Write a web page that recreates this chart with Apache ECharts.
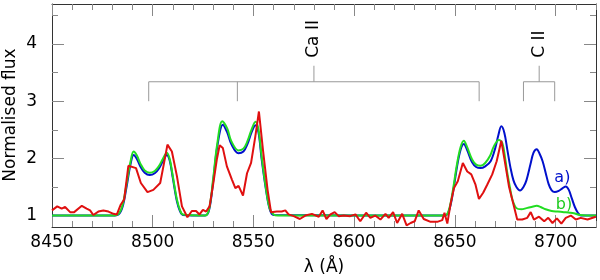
<!DOCTYPE html>
<html><head><meta charset="utf-8">
<script src="https://cdn.jsdelivr.net/npm/echarts@6/dist/echarts.min.js"></script>
<style>html,body{margin:0;padding:0;background:#fff}#c{width:600px;height:280px}</style>
</head><body><div id="c"></div>
<script>
// ---- axis ranges and ticks ----
const xMin = 8450, xMax = 8720, yMin = 0.8, yMax = 4.7;
const xMajorTicks = [8450, 8500, 8550, 8600, 8650, 8700];
const xMinorTicks = [8460, 8470, 8480, 8490, 8510, 8520, 8530, 8540, 8560, 8570, 8580, 8590, 8610, 8620, 8630, 8640, 8660, 8670, 8680, 8690, 8710, 8720];
const yMajorTicks = [1, 2, 3, 4];
const yMinorTicks = [1.5, 2.5, 3.5, 4.5];
const xTitle = 'λ (Å)';
const yTitle = 'Normalised flux';

// ---- model a) (blue) ----
const modelA = [[8450,1.0],[8480,1.0],[8483,1.02],[8485,1.15],[8487,1.5],[8489,1.9],[8490.5,2.06],[8492,2.0],[8494,1.85],[8496,1.75],[8498.5,1.71],[8501,1.74],[8503,1.82],[8505,1.95],[8507,2.06],[8508.5,1.95],[8510,1.65],[8512,1.25],[8513.5,1.08],[8515,1.01],[8526,1.0],[8528,1.1],[8530,1.6],[8532,2.2],[8534.8,2.59],[8537,2.45],[8539,2.25],[8542.5,2.09],[8545,2.12],[8547,2.25],[8549,2.45],[8551,2.58],[8552.5,2.45],[8554,2.0],[8556,1.5],[8558,1.12],[8560,1.01],[8645,1.0],[8647,1.08],[8649,1.4],[8651,1.85],[8652.8,2.15],[8654.4,2.25],[8656,2.15],[8658.5,1.93],[8660.5,1.85],[8662.7,1.83],[8665,1.86],[8667.7,1.95],[8670,2.18],[8671.5,2.4],[8673,2.56],[8674.5,2.45],[8676,2.15],[8677.6,1.83],[8679,1.62],[8680.5,1.5],[8682.3,1.44],[8684,1.5],[8685.5,1.62],[8687.5,1.9],[8689,2.1],[8690.6,2.16],[8692,2.08],[8693.5,1.95],[8695,1.75],[8696.5,1.55],[8698,1.44],[8699.5,1.41],[8701.5,1.43],[8703.5,1.48],[8705,1.51],[8706.5,1.45],[8708,1.3],[8709.5,1.15],[8711,1.05],[8712.5,1.0],[8720,1.0]];

// ---- model b) (green) ----
const modelB = [[8450,1.0],[8480,1.0],[8483,1.03],[8485,1.18],[8487,1.55],[8489,1.95],[8490.5,2.12],[8492,2.06],[8494,1.9],[8496,1.79],[8498.5,1.75],[8501,1.78],[8503,1.86],[8505,1.99],[8507,2.1],[8508.5,1.98],[8510,1.68],[8512,1.28],[8513.5,1.1],[8515,1.02],[8526,1.0],[8528,1.12],[8530,1.65],[8532,2.25],[8534.5,2.65],[8537,2.52],[8539,2.3],[8542.5,2.14],[8545,2.17],[8547,2.3],[8549,2.5],[8551,2.64],[8552.5,2.5],[8554,2.05],[8556,1.52],[8558,1.13],[8560,1.02],[8562,1.0],[8645,1.0],[8647,1.1],[8649,1.45],[8651,1.9],[8652.8,2.2],[8654.4,2.31],[8656,2.2],[8658.5,1.98],[8660.5,1.89],[8662.7,1.87],[8665,1.92],[8667.5,2.05],[8669.3,2.21],[8671.8,2.32],[8673.5,2.27],[8675,1.98],[8676,1.74],[8677.5,1.45],[8678.5,1.28],[8680.5,1.13],[8683,1.11],[8685.5,1.13],[8688,1.15],[8690.6,1.17],[8692.5,1.15],[8695,1.11],[8698,1.08],[8701,1.07],[8704,1.06],[8707,1.05],[8709,1.04],[8712,1.01],[8720,1.0]];

// ---- observed spectrum (red) ----
const observed = [[8450,1.09],[8452.6,1.16],[8454.8,1.12],[8456.5,1.15],[8459,1.06],[8461,1.06],[8464.8,1.17],[8467.2,1.12],[8468.9,1.09],[8470.5,1.01],[8473,1.07],[8475.5,1.09],[8478,1.07],[8480.5,1.03],[8482.2,1.02],[8484.1,1.19],[8485.8,1.28],[8487.9,1.87],[8491.7,1.83],[8494.1,1.57],[8497.4,1.41],[8500.3,1.45],[8503.7,1.57],[8505.5,1.9],[8507.3,2.24],[8509.5,2.12],[8512,1.69],[8514.5,1.16],[8517.2,0.97],[8519.4,1.08],[8521.5,1.08],[8523.2,1.02],[8524.9,1.10],[8526.5,1.07],[8528.2,1.16],[8530,1.55],[8531.8,1.98],[8533.2,2.23],[8534.8,2.18],[8536.8,1.86],[8539.3,1.63],[8541,1.48],[8542.6,1.52],[8544.8,1.35],[8546.8,1.74],[8548.8,1.92],[8550.9,2.38],[8552.7,2.82],[8554.7,2.15],[8557,1.45],[8558.7,1.06],[8561.6,1.07],[8564,1.07],[8565.8,1.09],[8567.4,1.02],[8570,0.99],[8573,0.94],[8575.7,1.0],[8579,1.03],[8582.4,0.98],[8584.3,1.09],[8586.2,0.94],[8588.2,1.02],[8590.3,1.06],[8592.3,0.99],[8594.8,1.0],[8598,0.99],[8600.6,1.02],[8603,0.90],[8605.9,1.05],[8608,0.96],[8610.4,1.0],[8613,0.93],[8615.5,1.03],[8617.1,0.96],[8619.3,1.06],[8621.3,0.87],[8623.8,1.03],[8626,0.83],[8628,0.87],[8630,0.9],[8632,1.09],[8634.5,0.94],[8637.9,0.89],[8641.2,0.89],[8643.7,0.92],[8644.8,1.05],[8646.2,0.86],[8647.8,1.2],[8649.5,1.48],[8651.4,1.60],[8653.9,1.92],[8656.1,1.77],[8658.1,1.72],[8660.2,1.54],[8661.9,1.29],[8664,1.40],[8666,1.54],[8668.5,1.72],[8670.7,1.95],[8673,2.31],[8674.6,1.98],[8676.8,1.51],[8679.3,1.16],[8680.9,0.93],[8683.4,0.93],[8685.9,0.96],[8687.6,1.06],[8689.2,0.93],[8691.7,0.98],[8694.3,0.9],[8696.3,0.96],[8698.4,0.87],[8700.6,0.95],[8702.8,0.86],[8705,0.96],[8707.5,1.0],[8710,0.93],[8712.4,0.96],[8715.8,0.93],[8719.9,0.98]];

// ---- line identifications ----
const caLines = [8498, 8542, 8662];
const caLabelX = 8580;
const cLines = [8684, 8699.5];
const cLabelX = 8691.8;
const bracketFoot = 3.0, bracketBar = 3.34, bracketStem = 3.62;
const labelA = [8703.3, 1.66];
const labelB = [8704.1, 1.19];

const FONT = 'DejaVu Sans';
const AX = '#333', TK = '#888', GRAY = '#999';

function bracketSeries(lines, cx) {
  const out = [];
  const lo = Math.min(...lines), hi = Math.max(...lines);
  out.push([[lo, bracketBar], [hi, bracketBar]]);
  lines.forEach(l => out.push([[l, bracketFoot], [l, bracketBar]]));
  out.push([[cx, bracketBar], [cx, bracketStem]]);
  return out.map(d => ({
    type: 'line', data: d, symbol: 'none', silent: true, z: 1,
    lineStyle: { color: GRAY, width: 1 }, animation: false
  }));
}
function textSeries(pt, text, opts) {
  return {
    type: 'scatter', data: [pt], symbolSize: 0, silent: true, animation: false, z: 5,
    itemStyle: { opacity: 1 },
    label: Object.assign({ show: true, formatter: text, fontFamily: FONT }, opts)
  };
}
const plain = v => String(v);

function xAx(pos, vals, len, showLabel, showLine) {
  return {
    type: 'value', min: xMin, max: xMax, position: pos, gridIndex: 0,
    axisLine: { show: showLine, onZero: false, lineStyle: { color: AX, width: 1 } },
    axisTick: { show: true, inside: true, length: len, customValues: vals, lineStyle: { color: TK } },
    axisLabel: { show: showLabel, customValues: vals, formatter: plain, margin: 7, fontSize: 17, color: '#000', fontFamily: FONT },
    splitLine: { show: false }
  };
}
function yAx(pos, vals, len, showLabel, showLine) {
  return {
    type: 'value', min: yMin, max: yMax, position: pos, gridIndex: 0,
    axisLine: { show: showLine, onZero: false, lineStyle: { color: AX, width: 1 } },
    axisTick: { show: true, inside: true, length: len, customValues: vals, lineStyle: { color: TK } },
    axisLabel: { show: showLabel, customValues: vals, formatter: plain, margin: 15, fontSize: 17, color: '#000', fontFamily: FONT },
    splitLine: { show: false }
  };
}

const xAxes = [
  xAx('bottom', xMajorTicks, 12, true, true),
  xAx('bottom', xMinorTicks, 6, false, false),
  xAx('top', xMajorTicks, 12, false, true),
  xAx('top', xMinorTicks, 6, false, false)
];
const yAxes = [
  yAx('left', yMajorTicks, 12, true, true),
  yAx('left', yMinorTicks, 6, false, false),
  yAx('right', yMajorTicks, 12, false, true),
  yAx('right', yMinorTicks, 6, false, false)
];

const series = [
  ...bracketSeries(caLines, caLabelX),
  ...bracketSeries(cLines, cLabelX),
  textSeries([caLabelX, bracketStem], 'Ca II', { position: 'top', distance: 8, rotate: 90, align: 'left', verticalAlign: 'middle', fontSize: 17, color: '#000' }),
  textSeries([cLabelX, bracketStem], 'C II', { position: 'top', distance: 8, rotate: 90, align: 'left', verticalAlign: 'middle', fontSize: 17, color: '#000' }),
  { type: 'line', data: modelA, symbol: 'none', smooth: 0.35, lineStyle: { color: '#0010cc', width: 2 }, z: 2, animation: false },
  { type: 'line', data: modelB, symbol: 'none', smooth: 0.35, lineStyle: { color: '#22dd22', width: 2 }, z: 3, animation: false },
  { type: 'line', data: observed, symbol: 'none', lineStyle: { color: '#e01010', width: 2 }, z: 4, animation: false },
  textSeries(labelA, 'a)', { position: 'inside', fontSize: 16, color: '#0010cc' }),
  textSeries(labelB, 'b)', { position: 'inside', fontSize: 16, color: '#22cc22' })
];

const chart = echarts.init(document.getElementById('c'), null, { renderer: 'canvas' });
chart.setOption({
  backgroundColor: '#fff',
  animation: false,
  grid: { left: 52, right: 4, top: 4, bottom: 53, outerBoundsMode: 'none', containLabel: false },
  xAxis: xAxes,
  yAxis: yAxes,
  series: series,
  graphic: [
    { type: 'text', x: 324, y: 268, style: { text: xTitle, fontSize: 17, fontFamily: FONT, fill: '#000', align: 'center', verticalAlign: 'middle' } },
    { type: 'text', x: 11, y: 115, rotation: Math.PI / 2, style: { text: yTitle, fontSize: 17, fontFamily: FONT, fill: '#000', align: 'center', verticalAlign: 'middle' } }
  ]
});
</script>
</body></html>
